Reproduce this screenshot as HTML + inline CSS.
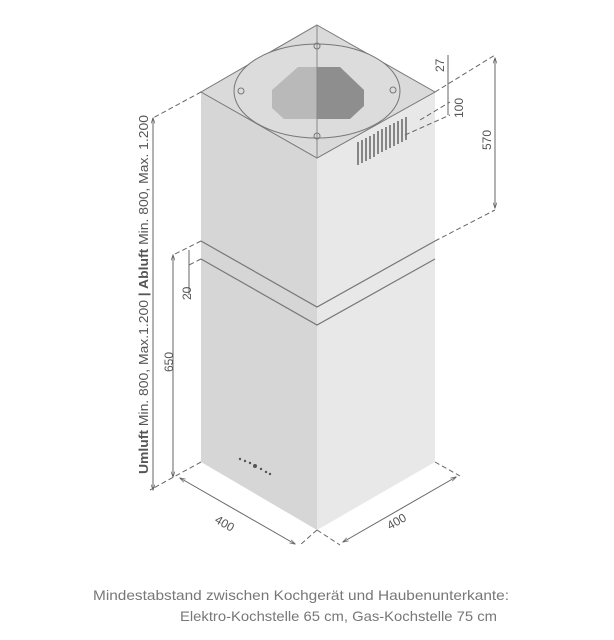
<!DOCTYPE html>
<html><head><style>body{margin:0;background:#fff}svg{display:block}</style></head><body>
<svg width="614" height="640" viewBox="0 0 614 640" xmlns="http://www.w3.org/2000/svg" font-family="Liberation Sans, sans-serif">
<defs><marker id="a" viewBox="0 0 10 10" refX="9" refY="5" markerWidth="6" markerHeight="6" orient="auto-start-reverse"><path d="M0,2 L10,5 L0,8" fill="none" stroke="#666" stroke-width="1.2"/></marker></defs>
<polygon points="201,92 317,158 317,530 201,462" fill="#d6d6d6"/>
<polygon points="317,158 435,92 435,462 317,530" fill="#e8e8e8"/>
<polygon points="317,25 435,92 317,158 201,92" fill="#dadada" stroke="#777" stroke-width="1"/>
<polyline points="201,241 317,307 435,241" fill="none" stroke="#777" stroke-width="1.2"/>
<polyline points="201,259 317,325 435,259" fill="none" stroke="#777" stroke-width="1.2"/>
<ellipse cx="317" cy="91" rx="83" ry="47" fill="#dcdcdc" stroke="#777" stroke-width="1"/>
<polygon points="272,90 298,67 317,67 317,119 284,119 272,108" fill="#b9b9b9"/>
<polygon points="317,67 340,67 364,90 364,106 350,119 317,119" fill="#8e8e8e"/>
<line x1="317" y1="25" x2="317" y2="158" stroke="#888"/>
<g fill="none" stroke="#777"><circle cx="317" cy="46" r="3"/><circle cx="317" cy="136" r="3"/><circle cx="241" cy="91" r="3"/><circle cx="393" cy="90" r="3"/></g>
<g stroke="#666" stroke-width="1.5">
<line x1="358" y1="142" x2="358" y2="165"/><line x1="362" y1="140" x2="362" y2="163"/><line x1="366" y1="138" x2="366" y2="161"/><line x1="370" y1="136" x2="370" y2="159"/><line x1="374" y1="134" x2="374" y2="157"/><line x1="378" y1="131" x2="378" y2="154"/><line x1="382" y1="129" x2="382" y2="152"/><line x1="386" y1="127" x2="386" y2="150"/><line x1="390" y1="125" x2="390" y2="148"/><line x1="394" y1="123" x2="394" y2="146"/><line x1="398" y1="121" x2="398" y2="144"/><line x1="402" y1="119" x2="402" y2="142"/><line x1="406" y1="117" x2="406" y2="140"/>
</g>
<g fill="#555"><circle cx="240" cy="459" r="1.2"/><circle cx="245" cy="461" r="1.2"/><circle cx="250" cy="463" r="1.2"/><circle cx="255" cy="466" r="2"/><circle cx="261" cy="469" r="1.2"/><circle cx="266" cy="472" r="1.2"/><circle cx="270" cy="474" r="1.2"/></g>
<g stroke="#666" stroke-width="1" stroke-dasharray="5,3" fill="none">
<line x1="201" y1="92" x2="153" y2="118"/>
<line x1="201" y1="241" x2="173" y2="255"/>
<line x1="201" y1="259" x2="187" y2="266"/>
<line x1="201" y1="462" x2="150" y2="490"/>
<line x1="317" y1="530" x2="300" y2="545"/>
<line x1="317" y1="530" x2="340" y2="545"/>
<line x1="435" y1="462" x2="460" y2="476"/>
<line x1="435" y1="92" x2="495" y2="55"/>
<line x1="420" y1="120" x2="450" y2="102"/>
<line x1="405" y1="135" x2="450" y2="115"/>
<line x1="435" y1="241" x2="495" y2="210"/>
</g>
<g stroke="#666" stroke-width="1" fill="none">
<line x1="153" y1="118" x2="153" y2="490" marker-start="url(#a)" marker-end="url(#a)"/>
<line x1="173" y1="255" x2="173" y2="477" marker-start="url(#a)" marker-end="url(#a)"/>
<line x1="189" y1="250" x2="189" y2="295"/>
<line x1="448" y1="55" x2="448" y2="115"/>
<line x1="495" y1="58" x2="495" y2="208" marker-start="url(#a)" marker-end="url(#a)"/>
<line x1="180" y1="478" x2="295" y2="544" marker-start="url(#a)" marker-end="url(#a)"/>
<line x1="343" y1="542" x2="456" y2="477" marker-start="url(#a)" marker-end="url(#a)"/>
</g>
<g fill="#555" font-size="12">
<text transform="translate(148,474) rotate(-90)" font-size="12.5" textLength="359" lengthAdjust="spacingAndGlyphs"><tspan font-weight="bold">Umluft</tspan> Min. 800, Max.1.200 <tspan font-weight="bold">| Abluft</tspan> Min. 800, Max. 1.200</text>
<text transform="translate(173,372) rotate(-90)">650</text>
<text transform="translate(191,300) rotate(-90)">20</text>
<text transform="translate(444,72) rotate(-90)">27</text>
<text transform="translate(463,118) rotate(-90)">100</text>
<text transform="translate(491,150) rotate(-90)">570</text>
<text transform="translate(214,522) rotate(30)">400</text>
<text transform="translate(390,530) rotate(-30)">400</text>
</g>
<text x="93" y="600" fill="#777" font-size="14" textLength="416" lengthAdjust="spacingAndGlyphs">Mindestabstand zwischen Kochgerät und Haubenunterkante:</text>
<text x="180" y="621" fill="#777" font-size="14" textLength="317" lengthAdjust="spacingAndGlyphs">Elektro-Kochstelle 65 cm, Gas-Kochstelle 75 cm</text>
</svg>
</body></html>
